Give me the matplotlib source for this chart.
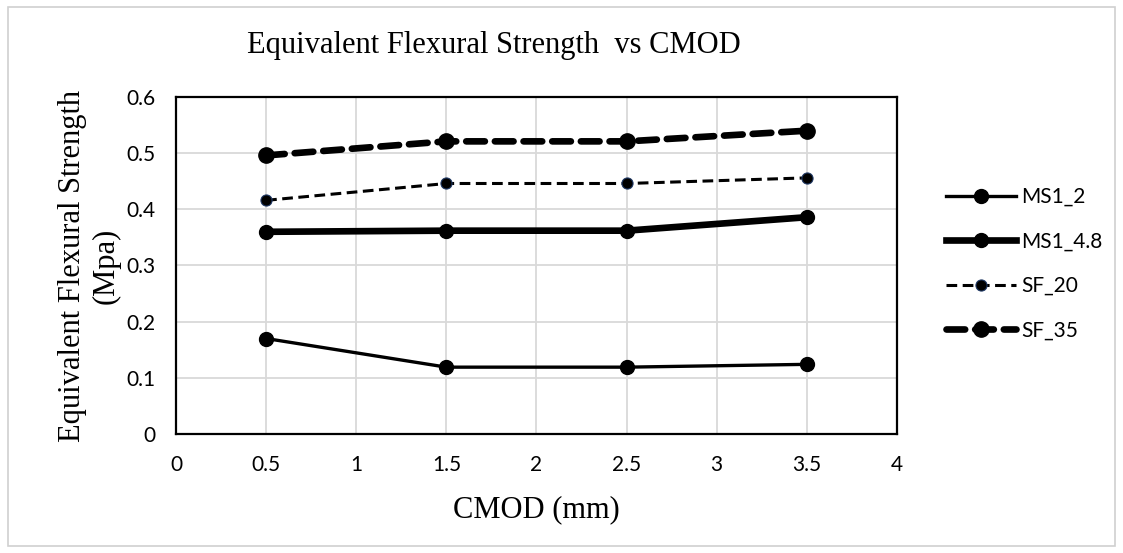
import matplotlib
matplotlib.use("Agg")
import matplotlib.pyplot as plt
from matplotlib.patches import Rectangle

# CMOD values (mm)
cmod = [0.5, 1.5, 2.5, 3.5]

# equivalent flexural strength (MPa)
ms1_2 = [0.170, 0.119, 0.119, 0.124]
ms1_48 = [0.360, 0.362, 0.362, 0.386]
sf_20 = [0.416, 0.446, 0.446, 0.456]
sf_35 = [0.496, 0.521, 0.521, 0.540]

xticks = [0, 0.5, 1, 1.5, 2, 2.5, 3, 3.5, 4]
xtick_labels = ["0", "0.5", "1", "1.5", "2", "2.5", "3", "3.5", "4"]
yticks = [0, 0.1, 0.2, 0.3, 0.4, 0.5, 0.6]
ytick_labels = ["0", "0.1", "0.2", "0.3", "0.4", "0.5", "0.6"]

serif = "Liberation Serif"
sans = "Lato"

fig = plt.figure(figsize=(11.23, 5.53), dpi=100)
ax = fig.add_axes([0.1567, 0.2152, 0.642, 0.6094])

ax.plot(cmod, ms1_2, color="black", lw=2.4, marker="o", ms=10, label="MS1_2")
ax.plot(cmod, ms1_48, color="black", lw=4.8, marker="o", ms=10, label="MS1_4.8")
ax.plot(cmod, sf_20, color="black", lw=2.2, ls=(0, (3.5, 1.8)), marker="o", ms=8,
        mec="#1f3864", mew=0.8, label="SF_20")
ax.plot(cmod, sf_35, color="black", lw=4.8, ls=(0, (2.8, 1.5)), marker="o", ms=11,
        dash_capstyle="round", label="SF_35")

ax.set_xlim(0, 4)
ax.set_ylim(0, 0.6)
ax.set_xticks(xticks)
ax.set_xticklabels(xtick_labels, fontfamily=sans, fontsize=15)
ax.set_yticks(yticks)
ax.set_yticklabels(ytick_labels, fontfamily=sans, fontsize=15)
ax.tick_params(length=0, pad=15)
ax.grid(True, color="#d9d9d9", lw=1.3)
ax.set_axisbelow(True)
for sp in ax.spines.values():
    sp.set_linewidth(1.6)
    sp.set_color("black")

ax.set_xlabel("CMOD (mm)", fontfamily=serif, fontsize=22, labelpad=15)
ax.set_ylabel("Equivalent Flexural Strength\n(Mpa)", fontfamily=serif, fontsize=22,
              linespacing=1.2, labelpad=4)
fig.text(0.44, 0.918, "Equivalent Flexural Strength  vs CMOD", fontfamily=serif,
         fontsize=22, ha="center", va="center")

leg = ax.legend(loc="center left", bbox_to_anchor=(1.053, 0.505), frameon=False,
                prop={"family": sans, "size": 15}, handlelength=3.4,
                labelspacing=1.18, handletextpad=0.25, borderpad=0)

fig.patches.append(Rectangle((0.007, 0.012), 0.986, 0.975, transform=fig.transFigure,
                             fill=False, edgecolor="#d0d0d0", lw=1.2))

fig.savefig("out.png", dpi=100)
